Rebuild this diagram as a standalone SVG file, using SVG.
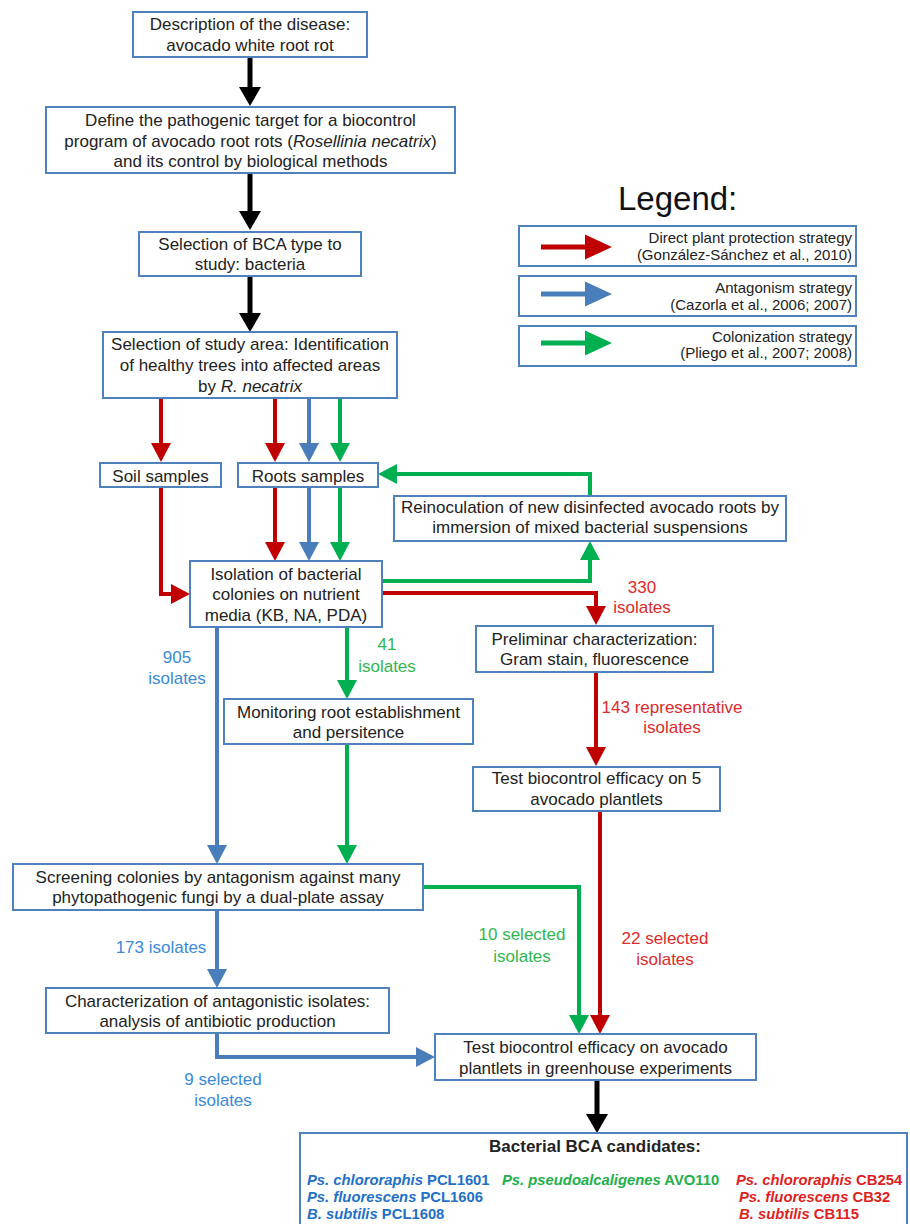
<svg xmlns="http://www.w3.org/2000/svg" width="910" height="1224" viewBox="0 0 910 1224">
<style>
text{font-family:"Liberation Sans",Arial,sans-serif;}
.box{fill:#fff;stroke:#4f81bd;stroke-width:2;}
.t{font-size:17px;fill:#222;text-anchor:middle;}
.lg{font-size:15px;fill:#222;text-anchor:end;}
.lb{font-size:17px;text-anchor:middle;}
.lr{fill:#dd2a2a;} .lbl{fill:#3a8ad6;} .lgn{fill:#2fb84f;}
.k{fill:none;stroke:#000;stroke-width:5;}
.r{fill:none;stroke:#c00000;stroke-width:4;}
.b{fill:none;stroke:#4a7ebb;stroke-width:4;}
.g{fill:none;stroke:#00b050;stroke-width:4;}
.c{font-size:14.8px;font-weight:bold;}
</style>
<defs>
<marker id="mk" markerUnits="userSpaceOnUse" markerWidth="20" markerHeight="22" refX="0" refY="11" orient="auto"><path d="M0,0 L19,11 L0,22 z" fill="#000"/></marker>
<marker id="mr" markerUnits="userSpaceOnUse" markerWidth="20" markerHeight="20" refX="0" refY="10" orient="auto"><path d="M0,0 L19,10 L0,20 z" fill="#c00000"/></marker>
<marker id="mb" markerUnits="userSpaceOnUse" markerWidth="20" markerHeight="20" refX="0" refY="10" orient="auto"><path d="M0,0 L19,10 L0,20 z" fill="#4a7ebb"/></marker>
<marker id="mg" markerUnits="userSpaceOnUse" markerWidth="20" markerHeight="20" refX="0" refY="10" orient="auto"><path d="M0,0 L19,10 L0,20 z" fill="#00b050"/></marker>
</defs>

<g id="connectors">
<path class="k" d="M250,57 V87" marker-end="url(#mk)"/>
<path class="k" d="M250,173 V211" marker-end="url(#mk)"/>
<path class="k" d="M250,276 V313" marker-end="url(#mk)"/>
<path class="k" d="M597,1080 V1114" marker-end="url(#mk)"/>

<path class="r" d="M161,398 V443" marker-end="url(#mr)"/>
<path class="r" d="M275,398 V443" marker-end="url(#mr)"/>
<path class="r" d="M161,487 V594 H171" marker-end="url(#mr)"/>
<path class="r" d="M275,487 V542" marker-end="url(#mr)"/>
<path class="r" d="M382,593 H596 V606" marker-end="url(#mr)"/>
<path class="r" d="M596,672 V747" marker-end="url(#mr)"/>
<path class="r" d="M600,811 V1015" marker-end="url(#mr)"/>

<path class="b" d="M309,398 V443" marker-end="url(#mb)"/>
<path class="b" d="M309,487 V542" marker-end="url(#mb)"/>
<path class="b" d="M217,627 V845" marker-end="url(#mb)"/>
<path class="b" d="M217,910 V969" marker-end="url(#mb)"/>
<path class="b" d="M217,1033 V1057 H416" marker-end="url(#mb)"/>

<path class="g" d="M340,398 V443" marker-end="url(#mg)"/>
<path class="g" d="M340,487 V542" marker-end="url(#mg)"/>
<path class="g" d="M382,581 H590 V560" marker-end="url(#mg)"/>
<path class="g" d="M590,496 V474 H397" marker-end="url(#mg)"/>
<path class="g" d="M347,627 V680" marker-end="url(#mg)"/>
<path class="g" d="M347,744 V845" marker-end="url(#mg)"/>
<path class="g" d="M423,887 H579 V1015" marker-end="url(#mg)"/>
</g>

<g id="edge-labels">
<text class="lb lbl" x="177" y="663">905</text>
<text class="lb lbl" x="177" y="684">isolates</text>
<text class="lb lgn" x="387" y="650">41</text>
<text class="lb lgn" x="387" y="672">isolates</text>
<text class="lb lr" x="642" y="593">330</text>
<text class="lb lr" x="642" y="613">isolates</text>
<text class="lb lr" x="672" y="713">143 representative</text>
<text class="lb lr" x="672" y="733">isolates</text>
<text class="lb lbl" x="161" y="953">173 isolates</text>
<text class="lb lbl" x="223" y="1085">9 selected</text>
<text class="lb lbl" x="223" y="1106">isolates</text>
<text class="lb lgn" x="522" y="940">10 selected</text>
<text class="lb lgn" x="522" y="962">isolates</text>
<text class="lb lr" x="665" y="944">22 selected</text>
<text class="lb lr" x="665" y="965">isolates</text>
</g>

<g id="n-description">
<rect class="box" x="133" y="12" width="234" height="45"/>
<text class="t" x="250" y="30">Description of the disease:</text>
<text class="t" x="250" y="51">avocado white root rot</text>
</g>
<g id="n-define">
<rect class="box" x="46" y="107" width="409" height="66"/>
<text class="t" x="250.5" y="126">Define the pathogenic target for a biocontrol</text>
<text class="t" x="250.5" y="147">program of avocado root rots (<tspan font-style="italic">Rosellinia necatrix</tspan>)</text>
<text class="t" x="250.5" y="167">and its control by biological methods</text>
</g>
<g id="n-bca-type">
<rect class="box" x="139" y="232" width="222" height="44"/>
<text class="t" x="250" y="250">Selection of BCA type to</text>
<text class="t" x="250" y="270">study: bacteria</text>
</g>
<g id="n-study-area">
<rect class="box" x="103" y="332" width="294" height="66"/>
<text class="t" x="250" y="350">Selection of study area: Identification</text>
<text class="t" x="250" y="371">of healthy trees into affected areas</text>
<text class="t" x="250" y="392">by <tspan font-style="italic">R. necatrix</tspan></text>
</g>
<g id="n-soil">
<rect class="box" x="100" y="463" width="121" height="24"/>
<text class="t" x="160.5" y="482">Soil samples</text>
</g>
<g id="n-roots">
<rect class="box" x="238" y="463" width="140" height="24"/>
<text class="t" x="308" y="482">Roots samples</text>
</g>
<g id="n-reinoculation">
<rect class="box" x="394" y="496" width="392" height="45"/>
<text class="t" x="590" y="513">Reinoculation of new disinfected avocado roots by</text>
<text class="t" x="590" y="533">immersion of mixed bacterial suspensions</text>
</g>
<g id="n-isolation">
<rect class="box" x="190" y="561" width="192" height="66"/>
<text class="t" x="286" y="580">Isolation of bacterial</text>
<text class="t" x="286" y="600">colonies on nutrient</text>
<text class="t" x="286" y="621">media (KB, NA, PDA)</text>
</g>
<g id="n-preliminar">
<rect class="box" x="476" y="626" width="237" height="46"/>
<text class="t" x="594.5" y="645">Preliminar characterization:</text>
<text class="t" x="594.5" y="665">Gram stain, fluorescence</text>
</g>
<g id="n-monitoring">
<rect class="box" x="224" y="699" width="249" height="45"/>
<text class="t" x="348.5" y="718">Monitoring root establishment</text>
<text class="t" x="348.5" y="738">and persitence</text>
</g>
<g id="n-test5">
<rect class="box" x="473" y="767" width="247" height="44"/>
<text class="t" x="596.5" y="784">Test biocontrol efficacy on 5</text>
<text class="t" x="596.5" y="805">avocado plantlets</text>
</g>
<g id="n-screening">
<rect class="box" x="13" y="864" width="410" height="46"/>
<text class="t" x="218" y="883">Screening colonies by antagonism against many</text>
<text class="t" x="218" y="903">phytopathogenic fungi by a dual-plate assay</text>
</g>
<g id="n-characterization">
<rect class="box" x="46" y="988" width="343" height="45"/>
<text class="t" x="217.5" y="1007">Characterization of antagonistic isolates:</text>
<text class="t" x="217.5" y="1027">analysis of antibiotic production</text>
</g>
<g id="n-greenhouse">
<rect class="box" x="435" y="1034" width="321" height="46"/>
<text class="t" x="595.5" y="1053">Test biocontrol efficacy on avocado</text>
<text class="t" x="595.5" y="1074">plantlets in greenhouse experiments</text>
</g>
<g id="n-candidates">
<rect class="box" x="300" y="1133" width="607" height="100"/>
<text x="595" y="1152" font-size="17" font-weight="bold" fill="#222" text-anchor="middle">Bacterial BCA candidates:</text>
<text class="c" fill="#1f70c8" x="307" y="1185"><tspan font-style="italic">Ps. chlororaphis</tspan> PCL1601</text>
<text class="c" fill="#1f70c8" x="307" y="1202"><tspan font-style="italic">Ps. fluorescens</tspan> PCL1606</text>
<text class="c" fill="#1f70c8" x="307" y="1219"><tspan font-style="italic">B. subtilis</tspan> PCL1608</text>
<text class="c" fill="#22b04a" x="502" y="1185"><tspan font-style="italic">Ps. pseudoalcaligenes</tspan> AVO110</text>
<text class="c" fill="#e01e1e" x="736" y="1185"><tspan font-style="italic">Ps. chlororaphis</tspan> CB254</text>
<text class="c" fill="#e01e1e" x="739" y="1202"><tspan font-style="italic">Ps. fluorescens</tspan> CB32</text>
<text class="c" fill="#e01e1e" x="739" y="1219"><tspan font-style="italic">B. subtilis</tspan> CB115</text>
</g>

<g id="legend">
<text x="618" y="210" font-size="33" fill="#111">Legend:</text>
<rect class="box" x="519" y="226" width="337" height="40"/>
<path d="M541,247 H586" stroke="#c00000" stroke-width="5"/>
<polygon points="585,234.5 612,247 585,259.5" fill="#c00000"/>
<text class="lg" x="852" y="243">Direct plant protection strategy</text>
<text class="lg" x="852" y="260">(González-Sánchez et al., 2010)</text>
<rect class="box" x="519" y="276" width="337" height="40"/>
<path d="M541,294 H586" stroke="#4a7ebb" stroke-width="5"/>
<polygon points="585,281.5 612,294 585,306.5" fill="#4a7ebb"/>
<text class="lg" x="852" y="293">Antagonism strategy</text>
<text class="lg" x="852" y="310">(Cazorla et al., 2006; 2007)</text>
<rect class="box" x="519" y="326" width="337" height="40"/>
<path d="M541,343 H586" stroke="#00b050" stroke-width="5"/>
<polygon points="585,330.5 612,343 585,355.5" fill="#00b050"/>
<text class="lg" x="852" y="342">Colonization strategy</text>
<text class="lg" x="852" y="358">(Pliego et al., 2007; 2008)</text>
</g>
</svg>
